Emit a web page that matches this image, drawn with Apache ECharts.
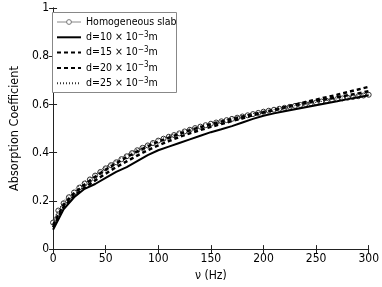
<!DOCTYPE html>
<html><head><meta charset="utf-8">
<script src="https://cdn.jsdelivr.net/npm/echarts@6/dist/echarts.min.js"></script>
<style>html,body{margin:0;padding:0;background:#fff}#c{width:382px;height:287px}</style>
</head><body><div id="c"></div>
<script>
// frequencies (Hz)
const freq10 = [0,10,20,30,40,50,60,70,80,90,100,110,120,130,140,150,160,170,180,190,200,210,220,230,240,250,260,270,280,290,300];
const freq5 = [0,5,10,15,20,25,30,35,40,45,50,55,60,65,70,75,80,85,90,95,100,105,110,115,120,125,130,135,140,145,150,155,160,165,170,175,180,185,190,195,200,205,210,215,220,225,230,235,240,245,250,255,260,265,270,275,280,285,290,295,300];
// series values
const homogeneous = [0.11,0.16,0.19,0.215,0.235,0.255,0.272,0.289,0.305,0.32,0.335,0.348,0.36,0.373,0.385,0.398,0.41,0.42,0.43,0.44,0.45,0.458,0.466,0.473,0.48,0.488,0.495,0.502,0.508,0.514,0.52,0.525,0.53,0.535,0.54,0.545,0.55,0.555,0.56,0.565,0.57,0.574,0.578,0.582,0.586,0.59,0.594,0.598,0.602,0.605,0.608,0.612,0.615,0.619,0.622,0.625,0.628,0.631,0.634,0.637,0.64];
const d10 = [0.08,0.165,0.215,0.25,0.27,0.295,0.32,0.34,0.365,0.39,0.41,0.425,0.44,0.455,0.47,0.485,0.497,0.51,0.525,0.54,0.553,0.563,0.572,0.58,0.588,0.597,0.605,0.613,0.622,0.63,0.638];
const d15 = [0.09,0.175,0.22,0.255,0.285,0.313,0.34,0.364,0.388,0.41,0.43,0.448,0.465,0.48,0.494,0.507,0.519,0.531,0.543,0.555,0.566,0.577,0.588,0.599,0.61,0.62,0.63,0.64,0.651,0.662,0.673];
const d20 = [0.1,0.185,0.232,0.268,0.3,0.33,0.356,0.381,0.405,0.426,0.446,0.462,0.478,0.493,0.506,0.518,0.529,0.54,0.55,0.56,0.569,0.578,0.587,0.596,0.605,0.613,0.621,0.63,0.638,0.646,0.655];
const d25 = [0.12,0.2,0.245,0.28,0.312,0.342,0.367,0.392,0.415,0.435,0.455,0.47,0.485,0.499,0.512,0.523,0.533,0.543,0.553,0.562,0.571,0.579,0.587,0.595,0.602,0.609,0.616,0.623,0.63,0.637,0.644];
const seriesNames = ['Homogeneous slab','d=10','d=15','d=20','d=25'];
const xTicks = [0,50,100,150,200,250,300];
const yTicks = [0,0.2,0.4,0.6,0.8,1];

const pairs = (xs, ys) => xs.map((x,i)=>[x, ys[i]]);
const FONT = '"DejaVu Sans Condensed", "Liberation Sans", sans-serif';
const chart = echarts.init(document.getElementById('c'), null, {renderer:'canvas'});
const axisCommon = {
  axisLine:{show:true, lineStyle:{color:'#222', width:1}},
  axisTick:{show:true, inside:true, length:4, lineStyle:{color:'#222'}},
  splitLine:{show:false}
};
const legendData = seriesNames.map((n,i)=> i===0
  ? {name:n, lineStyle:{width:1, color:'#888'}, itemStyle:{color:'#fff', borderColor:'#777', borderWidth:1}}
  : {name:n, itemStyle:{color:'rgba(0,0,0,0)', borderColor:'rgba(0,0,0,0)', borderWidth:0}});
chart.setOption({
  animation:false,
  backgroundColor:'#fff',
  grid:{left:49, right:10, top:8, bottom:33, containLabel:false},
  graphic:[{type:'rect', left:52, top:12, shape:{width:124, height:80}, z:10,
    style:{fill:'#fff', stroke:'#888', lineWidth:1}}],
  legend:{
    orient:'vertical', left:56, top:15.5, itemWidth:24, itemHeight:6, itemGap:2.3, z:20,
    padding:0,
    data: legendData,
    formatter: (n)=> n.startsWith('d=') ? n + ' × 10{sup|−3}m' : n,
    textStyle:{color:'#000', fontFamily:FONT, fontSize:10.5, lineHeight:13,
      rich:{sup:{fontSize:8, fontFamily:FONT, color:'#000', lineHeight:13, padding:[0,0,5,0]}}}
  },
  xAxis:[
    Object.assign({type:'value', min:0, max:300, interval:50, position:'bottom',
      name:'ν (Hz)', nameLocation:'middle', nameGap:18,
      nameTextStyle:{color:'#000', fontFamily:FONT, fontSize:12}}, axisCommon,
      {axisLabel:{color:'#000', fontFamily:FONT, fontSize:12, margin:4}}),
    Object.assign({type:'value', min:0, max:300, interval:50, position:'top'}, axisCommon, {axisLabel:{show:false}})
  ],
  yAxis:[
    Object.assign({type:'value', min:0, max:1, interval:0.2, position:'left',
      name:'Absorption Coefficient', nameLocation:'middle', nameGap:30, nameRotate:90,
      nameTextStyle:{color:'#000', fontFamily:FONT, fontSize:12.5}}, axisCommon,
      {axisLabel:{color:'#000', fontFamily:FONT, fontSize:12, margin:4}}),
    Object.assign({type:'value', min:0, max:1, interval:0.2, position:'right'}, axisCommon, {axisLabel:{show:false}})
  ],
  series:[
    {name:seriesNames[0], type:'line', data:pairs(freq5, homogeneous), symbol:'circle', symbolSize:5, showSymbol:true,
      itemStyle:{color:'#fff', borderColor:'#333', borderWidth:1}, lineStyle:{color:'#555', width:1}, z:2},
    {name:seriesNames[1], type:'line', data:pairs(freq10, d10), symbol:'none',
      itemStyle:{color:'#000'}, lineStyle:{color:'#000', width:2, type:'solid'}, z:3},
    {name:seriesNames[2], type:'line', data:pairs(freq10, d15), symbol:'none',
      itemStyle:{color:'#000'}, lineStyle:{color:'#000', width:2.5, type:[4,3]}, z:3},
    {name:seriesNames[3], type:'line', data:pairs(freq10, d20), symbol:'none',
      itemStyle:{color:'#000'}, lineStyle:{color:'#000', width:2.5, type:[4,3]}, z:3},
    {name:seriesNames[4], type:'line', data:pairs(freq10, d25), symbol:'none',
      itemStyle:{color:'#000'}, lineStyle:{color:'#333', width:1, type:[1,2]}, z:3}
  ]
});
</script></body></html>
